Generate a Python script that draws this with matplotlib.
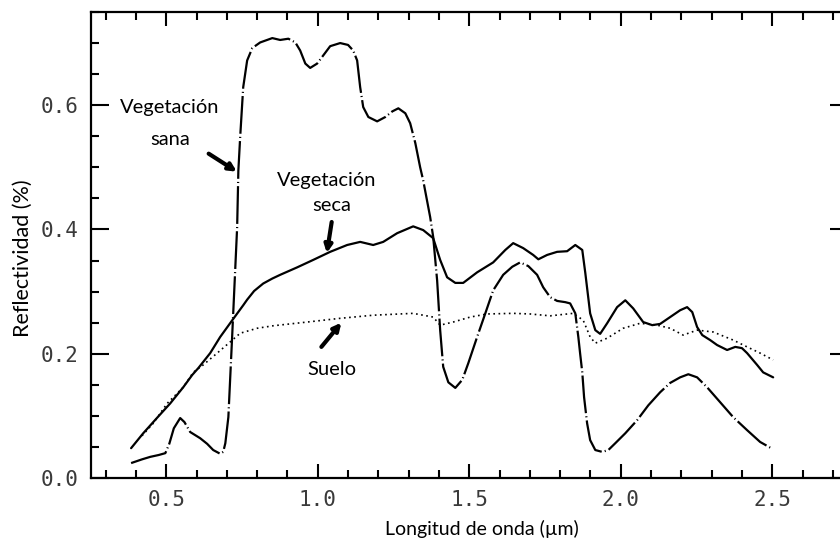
import matplotlib
matplotlib.use("Agg")
import matplotlib.pyplot as plt
from matplotlib.ticker import MultipleLocator, FormatStrFormatter

# Spectral reflectance curves (wavelength in µm, reflectance)
wl_sana = [0.384, 0.42, 0.447, 0.475, 0.497, 0.51, 0.525, 0.546, 0.56, 0.579,
           0.612, 0.635, 0.655, 0.678, 0.688, 0.695, 0.705, 0.718, 0.734, 0.738,
           0.744, 0.754, 0.767, 0.784, 0.810, 0.85, 0.876, 0.903, 0.926, 0.942,
           0.959, 0.975, 0.998, 1.018, 1.041, 1.074, 1.10, 1.117, 1.13, 1.14,
           1.15, 1.167, 1.196, 1.223, 1.246, 1.266, 1.289, 1.305, 1.322, 1.338,
           1.348, 1.371, 1.381, 1.394, 1.404, 1.414, 1.431, 1.454, 1.477, 1.497,
           1.526, 1.553, 1.579, 1.612, 1.642, 1.668, 1.695, 1.724, 1.744, 1.767,
           1.79, 1.817, 1.833, 1.85, 1.86, 1.866, 1.873, 1.879, 1.889, 1.899,
           1.916, 1.939, 1.959, 1.982, 2.015, 2.054, 2.091, 2.13, 2.163, 2.196,
           2.223, 2.252, 2.285, 2.328, 2.371, 2.417, 2.46, 2.50]
r_sana = [0.024, 0.030, 0.034, 0.037, 0.040, 0.055, 0.080, 0.0965, 0.090, 0.074,
          0.064, 0.055, 0.045, 0.039, 0.042, 0.056, 0.098, 0.233, 0.404, 0.495,
          0.549, 0.629, 0.672, 0.692, 0.701, 0.708, 0.705, 0.707, 0.701, 0.688,
          0.667, 0.660, 0.667, 0.680, 0.695, 0.700, 0.697, 0.688, 0.672, 0.629,
          0.597, 0.581, 0.574, 0.581, 0.590, 0.595, 0.587, 0.571, 0.539, 0.500,
          0.479, 0.420, 0.388, 0.318, 0.238, 0.179, 0.154, 0.145, 0.158, 0.185,
          0.227, 0.265, 0.302, 0.327, 0.340, 0.347, 0.341, 0.327, 0.307, 0.291,
          0.285, 0.283, 0.281, 0.265, 0.227, 0.200, 0.170, 0.130, 0.088, 0.061,
          0.045, 0.042, 0.045, 0.056, 0.072, 0.093, 0.117, 0.138, 0.153, 0.162,
          0.167, 0.162, 0.146, 0.122, 0.098, 0.077, 0.058, 0.047]

wl_seca = [0.384, 0.424, 0.47, 0.513, 0.556, 0.586, 0.606, 0.645, 0.678, 0.718,
           0.754, 0.767, 0.79, 0.82, 0.85, 0.876, 0.932, 0.985, 1.041, 1.097,
           1.14, 1.183, 1.216, 1.262, 1.315, 1.348, 1.381, 1.404, 1.427, 1.454,
           1.48, 1.526, 1.579, 1.619, 1.645, 1.678, 1.711, 1.728, 1.757, 1.79,
           1.823, 1.85, 1.873, 1.883, 1.899, 1.916, 1.932, 1.955, 1.988, 2.015,
           2.041, 2.074, 2.104, 2.13, 2.163, 2.196, 2.219, 2.236, 2.252, 2.269,
           2.295, 2.318, 2.351, 2.378, 2.40, 2.417, 2.45, 2.47, 2.503]
r_seca = [0.048, 0.072, 0.097, 0.120, 0.146, 0.166, 0.177, 0.201, 0.227, 0.254,
          0.278, 0.287, 0.301, 0.313, 0.321, 0.327, 0.339, 0.351, 0.364, 0.375,
          0.380, 0.375, 0.380, 0.394, 0.405, 0.399, 0.386, 0.351, 0.323, 0.314,
          0.314, 0.331, 0.347, 0.367, 0.378, 0.370, 0.359, 0.352, 0.359, 0.364,
          0.365, 0.375, 0.367, 0.330, 0.265, 0.238, 0.232, 0.249, 0.275, 0.286,
          0.273, 0.251, 0.246, 0.248, 0.259, 0.270, 0.275, 0.267, 0.243, 0.230,
          0.222, 0.214, 0.206, 0.211, 0.209, 0.201, 0.182, 0.170, 0.162]

wl_suelo = [0.42, 0.457, 0.503, 0.556, 0.589, 0.622, 0.668, 0.711, 0.744, 0.80,
            0.853, 0.965, 1.074, 1.183, 1.315, 1.381, 1.404, 1.447, 1.503, 1.559,
            1.645, 1.701, 1.767, 1.843, 1.876, 1.899, 1.916, 1.955, 2.008, 2.064,
            2.12, 2.163, 2.206, 2.252, 2.305, 2.371, 2.417, 2.46, 2.503]
r_suelo = [0.068, 0.088, 0.120, 0.146, 0.170, 0.182, 0.201, 0.219, 0.233, 0.241,
           0.245, 0.251, 0.257, 0.262, 0.265, 0.259, 0.246, 0.251, 0.259, 0.264,
           0.265, 0.264, 0.261, 0.265, 0.254, 0.227, 0.217, 0.225, 0.241, 0.249,
           0.246, 0.241, 0.230, 0.238, 0.235, 0.222, 0.211, 0.201, 0.190]

x_ticks = [0.5, 1.0, 1.5, 2.0, 2.5]
y_ticks = [0.0, 0.2, 0.4, 0.6]

label_font = "Lato"
tick_font = "DejaVu Sans Mono"

fig = plt.figure(figsize=(8.4, 5.47), dpi=100)
fig.patch.set_facecolor("white")
# axes extend slightly past the right edge of the canvas
ax = fig.add_axes([90.5 / 840, 69 / 547, (848 - 90.5) / 840, 466 / 547])

ax.plot(wl_seca, r_seca, color="black", lw=1.6, solid_capstyle="round")
ax.plot(wl_suelo, r_suelo, color="black", lw=1.2, linestyle=(0, (1, 2.1)))
ax.plot(wl_sana, r_sana, color="black", lw=1.6,
        linestyle=(0, (17, 1.4, 0.5, 1.4)))

ax.set_xlim(0.25, 2.75)
ax.set_ylim(0.0, 0.75)

ax.xaxis.set_major_locator(plt.FixedLocator(x_ticks))
ax.xaxis.set_minor_locator(MultipleLocator(0.1))
ax.yaxis.set_major_locator(plt.FixedLocator(y_ticks))
ax.yaxis.set_minor_locator(MultipleLocator(0.05))
ax.xaxis.set_major_formatter(FormatStrFormatter("%.1f"))
ax.yaxis.set_major_formatter(FormatStrFormatter("%.1f"))

ax.tick_params(axis="both", which="both", direction="in", top=True, right=True,
               width=1.5, color="black")
ax.tick_params(axis="x", which="major", length=10, pad=9)
ax.tick_params(axis="y", which="major", length=13, pad=9)
ax.tick_params(axis="both", which="minor", length=5.5)
for lab in ax.get_xticklabels() + ax.get_yticklabels():
    lab.set_fontfamily(tick_font)
    lab.set_fontsize(15)
    lab.set_color("#3a3a3a")
for sp in ax.spines.values():
    sp.set_linewidth(1.6)

ax.set_xlabel("Longitud de onda (µm)", fontfamily=label_font, fontsize=14)
ax.xaxis.set_label_coords((482 - 90.5) / 757.5, -0.090)
ax.set_ylabel("Reflectividad (%)", fontfamily=label_font, fontsize=15.5)
ax.yaxis.set_label_coords(-0.076, 0.472)

arrow = dict(arrowstyle="-|>", color="black", lw=3, mutation_scale=11,
             shrinkA=0, shrinkB=0)
txt = dict(fontfamily=label_font, fontsize=14.5, ha="center", va="center")

ax.text(0.512, 0.597, "Vegetación", **txt)
ax.text(0.512, 0.545, "sana", **txt)
ax.annotate("", xy=(0.733, 0.493), xytext=(0.640, 0.522), arrowprops=arrow)

ax.text(1.028, 0.479, "Vegetación", **txt)
ax.text(1.045, 0.439, "seca", **txt)
ax.annotate("", xy=(1.030, 0.362), xytext=(1.046, 0.412), arrowprops=arrow)

ax.text(1.045, 0.174, "Suelo", **txt)
ax.annotate("", xy=(1.078, 0.250), xytext=(1.012, 0.211), arrowprops=arrow)

fig.savefig("out.png", dpi=100, facecolor="white")
